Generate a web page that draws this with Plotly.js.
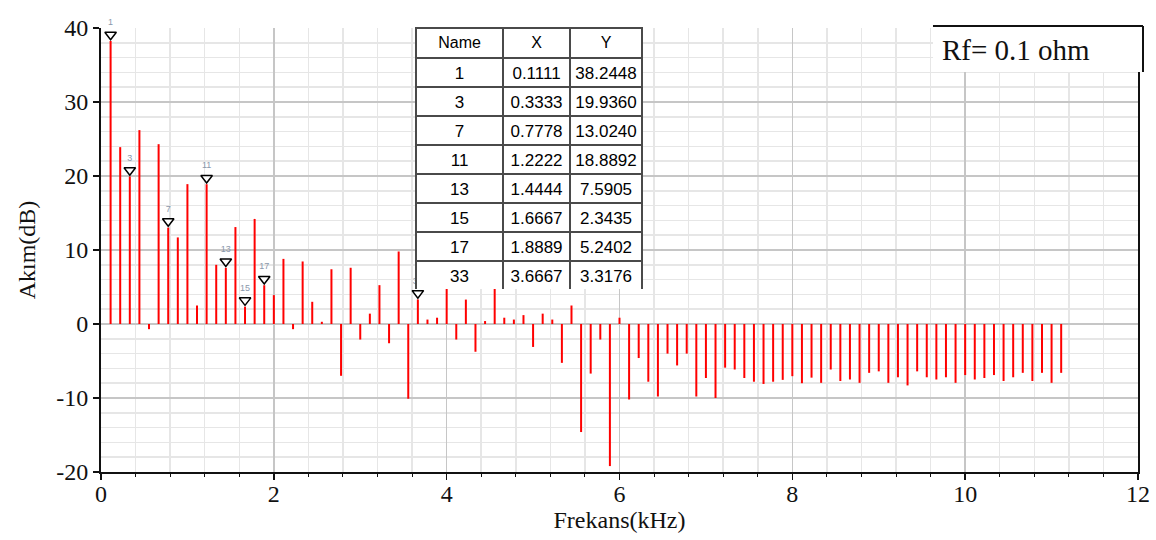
<!DOCTYPE html>
<html><head><meta charset="utf-8">
<script src="https://cdn.plot.ly/plotly-3.0.1.min.js"></script>
<style>html,body{margin:0;padding:0;background:#fff}</style>
</head><body><div id="chart" style="width:1156px;height:540px"></div>
<script>
// Fundamental frequency (kHz) of the spectrum
const fundamentalKHz = 0.111111;
// Amplitude (dB) of harmonics 1..100
const harmonicAmplitudes = [
  38.2448, 23.9, 19.936, 26.2, -0.7, 24.3, 13.024, 11.7, 18.9, 2.5,
  18.8892, 8.0, 7.5905, 13.1, 2.3435, 14.2, 5.2402, 3.9, 8.8, -0.7,
  8.45, 3.0, 0.3, 7.4, -7.0, 7.6, -2.1, 1.4, 5.25, -2.6,
  9.8, -10.1, 3.3176, 0.6, 0.85, 6.0, -2.1, 3.3, -3.75, 0.4,
  6.0, 0.85, 0.6, 1.2, -3.1, 1.4, 0.6, -5.25, 2.5, -14.6,
  -6.7, -2.1, -19.2, 0.85, -10.2, -4.6, -7.8, -9.8, -4.0, -5.6,
  -4.0, -9.8, -7.3, -10.0, -5.9, -6.15, -7.3, -7.8, -8.1, -7.8,
  -7.55, -7.05, -8.0, -7.25, -7.95, -6.15, -7.7, -7.5, -7.95, -6.6,
  -6.4, -7.95, -7.2, -8.3, -6.4, -7.2, -7.5, -7.2, -7.95, -6.9,
  -7.5, -7.3, -6.9, -7.7, -7.2, -6.6, -7.7, -6.6, -7.95, -6.6
];
// Marked harmonics (table)
const markedNames = [1, 3, 7, 11, 13, 15, 17, 33];
const markedX = [0.1111, 0.3333, 0.7778, 1.2222, 1.4444, 1.6667, 1.8889, 3.6667];
const markedY = [38.2448, 19.9360, 13.0240, 18.8892, 7.5905, 2.3435, 5.2402, 3.3176];
const tableHeader = ['Name', 'X', 'Y'];
const xTickVals = [0, 2, 4, 6, 8, 10, 12];
const yTickVals = [-20, -10, 0, 10, 20, 30, 40];
const annotationText = 'Rf= 0.1 ohm';

// Build stems
const stemX = [], stemY = [];
harmonicAmplitudes.forEach((a, i) => {
  const f = (i + 1) * fundamentalKHz;
  stemX.push(f, f, null);
  stemY.push(0, a, null);
});

const markerOffset = 0.85; // data units above stem top

const traces = [
  {
    type: 'scatter', mode: 'lines', x: stemX, y: stemY,
    line: {color: '#ff0000', width: 2}, hoverinfo: 'skip', cliponaxis: false
  },
  {
    type: 'scatter', mode: 'markers+text',
    x: markedX, y: markedY.map(v => v + markerOffset),
    text: markedNames.map(String), textposition: 'top center',
    textfont: {family: 'Liberation Sans', size: 9, color: '#8a98ac'},
    marker: {symbol: 'triangle-down', size: 10, color: '#ffffff', line: {color: '#000', width: 1.5}},
    cliponaxis: false
  },
  {
    type: 'table',
    domain: {x: [0.3038, 0.5227], y: [0.41, 1]},
    columnwidth: [87, 67, 72],
    header: {
      values: tableHeader, height: 30, align: 'center',
      fill: {color: '#ffffff'}, line: {color: '#4a4a4a', width: 1.5},
      font: {family: 'Liberation Sans', size: 16, color: '#000'}
    },
    cells: {
      values: [markedNames.map(String), markedX.map(v => v.toFixed(4)), markedY.map(v => v.toFixed(4))],
      height: 29, align: 'center',
      fill: {color: '#ffffff'}, line: {color: '#4a4a4a', width: 1.5},
      font: {family: 'Liberation Sans', size: 17, color: '#000'}
    }
  }
];

const bx0 = 0.8023, bx1 = 1.0048, by0 = 0.9009, by1 = 1.0045;

const layout = {
  width: 1156, height: 540,
  margin: {l: 101, r: 18, t: 28, b: 68},
  paper_bgcolor: '#ffffff', plot_bgcolor: '#ffffff',
  showlegend: false,
  font: {family: 'Liberation Serif', color: '#111'},
  xaxis: {
    range: [0, 12], tickvals: xTickVals, ticktext: xTickVals.map(String),
    showgrid: true, gridcolor: '#c6c6c6', gridwidth: 1.5, zeroline: false,
    showline: true, linecolor: '#111', linewidth: 2,
    ticks: 'outside', ticklen: 6, tickwidth: 1.5, tickcolor: '#111',
    ticklabelstandoff: -7,
    tickfont: {family: 'Liberation Serif', size: 24, color: '#111'},
    minor: {dtick: 0.4, tick0: 0, ticks: 'outside', ticklen: 3, tickwidth: 1, tickcolor: '#111',
            showgrid: true, gridcolor: '#e6e6e6', gridwidth: 1.5},
    title: {text: 'Frekans(kHz)', font: {family: 'Liberation Serif', size: 24, color: '#111'}, standoff: 0}
  },
  yaxis: {
    range: [-20, 40], tickvals: yTickVals, ticktext: yTickVals.map(String),
    showgrid: true, gridcolor: '#c6c6c6', gridwidth: 1.5, zeroline: false,
    showline: true, linecolor: '#111', linewidth: 2, mirror: true,
    ticks: 'outside', ticklen: 6, tickwidth: 1.5, tickcolor: '#111',
    tickfont: {family: 'Liberation Serif', size: 24, color: '#111'},
    minor: {dtick: 2, tick0: 0, ticks: '', showgrid: true, gridcolor: '#e6e6e6', gridwidth: 1.5},
    title: {text: 'Akım(dB)', font: {family: 'Liberation Serif', size: 24, color: '#111'}, standoff: 14}
  },
  shapes: [
    {type: 'rect', xref: 'paper', yref: 'paper', x0: bx0, x1: bx1, y0: by0, y1: by1,
     fillcolor: '#ffffff', line: {width: 0}, layer: 'above'},
    {type: 'line', xref: 'paper', yref: 'paper', x0: bx0, x1: bx1, y0: by1, y1: by1,
     line: {color: '#111', width: 2}, layer: 'above'},
    {type: 'line', xref: 'paper', yref: 'paper', x0: bx1, x1: bx1, y0: by0, y1: by1,
     line: {color: '#111', width: 2}, layer: 'above'}
  ],
  annotations: [
    {xref: 'paper', yref: 'paper', x: 0.809, y: 0.95, xanchor: 'left', yanchor: 'middle',
     text: annotationText, showarrow: false,
     font: {family: 'Liberation Serif', size: 29, color: '#111'}}
  ]
};

Plotly.newPlot('chart', traces, layout, {displayModeBar: false, staticPlot: true});
</script>
</body></html>
